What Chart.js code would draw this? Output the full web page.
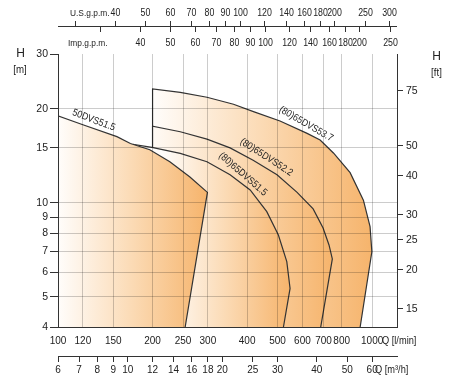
<!DOCTYPE html>
<html>
<head>
<meta charset="utf-8">
<script src="https://cdn.jsdelivr.net/npm/chart.js@4.4.1/dist/chart.umd.min.js"></script>
<style>
  html, body { margin: 0; padding: 0; background: #fff; }
</style>
</head>
<body>
<canvas id="chart" width="450" height="380"></canvas>
<script>
// pump curves: Q in l/min, H in m (each list is the outline of one shaded field)
const q50 = [100, 100, 120, 154, 170, 196, 227, 263, 299, 254];
const h50 = [4, 19.0, 17.8, 16.3, 15.5, 14.8, 13.55, 12.1, 10.8, 4];

const q515 = [174, 174, 199, 245, 298, 353, 409, 462, 503, 535, 548, 522];
const h515 = [4, 15.4, 15.05, 14.4, 13.55, 12.3, 11.0, 9.37, 7.89, 6.48, 5.32, 4];

const q522 = [200, 200, 245, 298, 353, 418, 498, 577, 649, 698, 729, 747, 686];
const h522 = [4, 17.6, 16.9, 16.0, 15.0, 13.7, 12.3, 10.8, 9.56, 8.31, 7.33, 6.61, 4];

const q537 = [200, 200, 245, 298, 362, 419, 509, 621, 683, 753, 851, 938, 985, 998, 916];
const h537 = [4, 23.2, 22.6, 21.8, 20.7, 19.6, 18.3, 16.7, 15.9, 14.45, 12.5, 10.2, 8.39, 6.97, 4];

const names = ['50DVS51.5', '(80)65DVS51.5', '(80)65DVS52.2', '(80)65DVS53.7'];

// axis ticks
const qTicks = [100, 120, 150, 200, 250, 300, 400, 500, 600, 700, 800, 1000];
const m3hTicks = [6, 7, 8, 9, 10, 12, 14, 16, 18, 20, 25, 30, 40, 50, 60];
const hTicks = [4, 5, 6, 7, 8, 9, 10, 15, 20, 30];
const ftTicks = [15, 20, 25, 30, 40, 50, 75];
const usTicks = [30, 40, 50, 60, 70, 80, 90, 100, 120, 140, 160, 180, 200, 250, 300];
const impTicks = [30, 40, 50, 60, 70, 80, 90, 100, 120, 140, 160, 180, 200, 250];

const Q_MIN = 100, Q_MAX = 1200, H_MIN = 4, H_MAX = 30;
const US_GAL = 3.78541, IMP_GAL = 4.54609, FT = 0.3048;

// where each shading runs from white to orange (l/min)
const shade = [[100, 299], [215, 548], [190, 747], [200, 998]];

// label placement along the curves
const curveLabels = [
  { q: 130, h: 18.4, angle: 21 },
  { q: 388, h: 12.35, angle: 41 },
  { q: 461, h: 14.0, angle: 33 },
  { q: 616, h: 17.9, angle: 30 }
];

const FONT = '"Liberation Sans", Arial, sans-serif';
Chart.defaults.font.family = FONT;
Chart.defaults.color = '#222';

function fillFor(i) {
  return function(ctx) {
    const chart = ctx.chart;
    if (!chart.chartArea) return '#f8c890';
    const xs = chart.scales.x;
    const g = chart.ctx.createLinearGradient(xs.getPixelForValue(shade[i][0]), 0, xs.getPixelForValue(shade[i][1]), 0);
    g.addColorStop(0, '#fffdfb');
    g.addColorStop(0.5, '#fbdab4');
    g.addColorStop(1, '#f6b46c');
    return g;
  };
}

const outlines = [[q50, h50], [q515, h515], [q522, h522], [q537, h537]];

const datasets = outlines.map(function(o, i) {
  return {
    label: names[i],
    data: o[0].map(function(q, j) { return { x: q, y: o[1][j] }; }),
    fill: 'shape',
    backgroundColor: fillFor(i),
    borderColor: '#333',
    borderWidth: 1.2,
    pointRadius: 0,
    tension: 0
  };
});

function fixedTicks(list) {
  return function(scale) { scale.ticks = list.map(function(v) { return { value: v }; }); };
}
function plain(v) { return String(v); }
const gridCol = 'rgba(0,0,0,0.2)';

// narrow text, like the condensed face of the original
function narrowText(c, txt, x, y, size) {
  c.save();
  c.font = size + 'px ' + FONT;
  c.translate(x, y);
  c.scale(0.88, 1);
  c.fillText(txt, 0, 0);
  c.restore();
}

const extras = {
  id: 'extras',
  afterDraw(chart) {
    const c = chart.ctx, xs = chart.scales.x, a = chart.chartArea;
    c.save();
    c.strokeStyle = '#333';
    c.fillStyle = '#222';
    c.lineWidth = 1;
    c.textAlign = 'center';
    c.textBaseline = 'middle';

    // top axes: U.S. gpm above the line, Imp. gpm below
    c.beginPath();
    c.moveTo(a.left, 26.5);
    c.lineTo(a.right, 26.5);
    c.stroke();
    usTicks.forEach(function(v) {
      const x = Math.round(xs.getPixelForValue(v * US_GAL)) + 0.5;
      c.beginPath(); c.moveTo(x, 21); c.lineTo(x, 26.5); c.stroke();
      if (v >= 40) narrowText(c, String(v), x, 13, 10);
    });
    impTicks.forEach(function(v) {
      const x = Math.round(xs.getPixelForValue(v * IMP_GAL)) + 0.5;
      c.beginPath(); c.moveTo(x, 26.5); c.lineTo(x, 32); c.stroke();
      if (v >= 40) narrowText(c, String(v), x, 43, 10);
    });
    c.textAlign = 'left';
    narrowText(c, 'U.S.g.p.m.', 70, 13, 9.5);
    narrowText(c, 'Imp.g.p.m.', 68, 43, 9.5);

    // axis titles
    c.textAlign = 'center';
    c.font = '12px ' + FONT;
    c.fillText('H', 20.5, 54);
    c.fillText('H', 436.5, 57);
    narrowText(c, '[m]', 20, 70, 11);
    narrowText(c, '[ft]', 436.5, 73, 11);
    c.textAlign = 'left';
    narrowText(c, 'Q [l/min]', 382, 341.5, 10.5);
    narrowText(c, 'Q [m\u00b3/h]', 375, 370, 10.5);

    // curve names
    c.textAlign = 'center';
    curveLabels.forEach(function(l, i) {
      c.save();
      c.translate(xs.getPixelForValue(l.q), chart.scales.y.getPixelForValue(l.h));
      c.rotate(l.angle * Math.PI / 180);
      narrowText(c, names[i], 0, 0, 10);
      c.restore();
    });
    c.restore();
  }
};

new Chart(document.getElementById('chart'), {
  type: 'line',
  data: { datasets: datasets },
  plugins: [extras],
  options: {
    responsive: false,
    animation: false,
    layout: { padding: { top: 54, left: 0, right: 0, bottom: 0 } },
    plugins: { legend: { display: false }, tooltip: { enabled: false } },
    scales: {
      x: {
        type: 'logarithmic', position: 'bottom', min: Q_MIN, max: Q_MAX,
        afterBuildTicks: fixedTicks(qTicks),
        afterFit: function(s) { s.height = 29; },
        ticks: { callback: plain, autoSkip: false, maxRotation: 0, padding: 8, font: { size: 10 } },
        grid: { z: 1, drawTicks: false, color: function(ctx) { return ctx.tick && ctx.tick.value === Q_MIN ? 'rgba(0,0,0,0)' : gridCol; } },
        border: { z: 1, color: '#333', width: 1 }
      },
      xm3: {
        type: 'logarithmic', position: 'bottom', min: Q_MIN * 0.06, max: Q_MAX * 0.06,
        afterBuildTicks: fixedTicks(m3hTicks),
        afterFit: function(s) { s.height = 24; },
        ticks: { callback: plain, autoSkip: false, maxRotation: 0, padding: 2, font: { size: 10 } },
        grid: { drawOnChartArea: false, tickLength: 6, tickColor: '#333' },
        border: { color: '#333', width: 1 }
      },
      y: {
        type: 'logarithmic', position: 'left', min: H_MIN, max: H_MAX,
        afterBuildTicks: fixedTicks(hTicks),
        afterFit: function(s) { s.width = 58; },
        ticks: { callback: plain, autoSkip: false, padding: 2, font: { size: 10.5 } },
        grid: { z: 1, tickLength: 8, tickColor: '#333', color: function(ctx) {
          const v = ctx.tick && ctx.tick.value;
          return v === H_MIN || v === H_MAX ? 'rgba(0,0,0,0)' : gridCol;
        } },
        border: { z: 1, color: '#333', width: 1 }
      },
      y2: {
        type: 'logarithmic', position: 'right', min: H_MIN / FT, max: H_MAX / FT,
        afterBuildTicks: fixedTicks(ftTicks),
        afterFit: function(s) { s.width = 53; },
        ticks: { callback: plain, autoSkip: false, padding: 3, font: { size: 10.5 } },
        grid: { drawOnChartArea: false, tickLength: 6, tickColor: '#333' },
        border: { z: 1, color: '#333', width: 1 }
      }
    }
  }
});
</script>
</body>
</html>
